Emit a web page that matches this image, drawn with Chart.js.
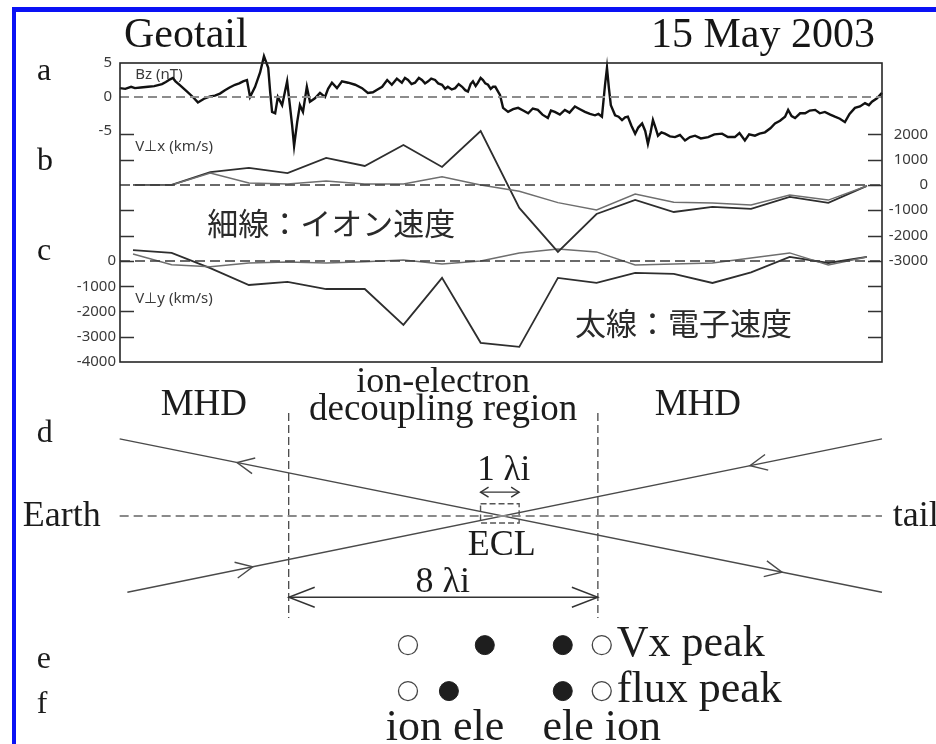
<!DOCTYPE html>
<html>
<head>
<meta charset="utf-8">
<script src="https://cdn.jsdelivr.net/npm/chart.js@4"></script>
<style>
  html, body { margin: 0; padding: 0; background: #fff; }
  #wrap { position: relative; width: 936px; height: 744px; overflow: hidden; background: #fff; }
  #frame { position: absolute; left: 12px; top: 7px; right: -20px; bottom: -20px;
           border-left: 4px solid #0a12f5; border-top: 5px solid #0a12f5; }
  #panels { position: absolute; left: 0; top: 0; }
  #diagram { position: absolute; left: 0; top: 362px; }
</style>
</head>
<body>
<div id="wrap">
  <div id="frame"></div>
  <canvas id="diagram" width="936" height="382"></canvas>
  <canvas id="panels" width="936" height="744"></canvas>
</div>
<script>
// ---------- Geotail, 15 May 2003 ----------
// Sample times (velocity moment number); Bz is given on a finer time grid.
const sampleTime = [0, 1, 2, 3, 4, 5, 6, 7, 8, 9, 10, 11, 12, 13, 14, 15, 16, 17, 18, 19];

// V⊥x (km/s)
const vxElectron = [0, 0, 510, 670, 470, 1070, 750, 1580, 710, 2130, -910, -2650, -1150, -590, -1070, -870, -950, -470, -710, -40];
const vxIon      = [0, 0, 470, 80, 40, 160, 40, 40, 320, 0, -250, -700, -990, -360, -680, -710, -790, -400, -600, -40];

// V⊥y (km/s)
const vyElectron = [430, 320, -280, -950, -830, -1110, -1110, -2530, -670, -3240, -3400, -670, -870, -470, -510, -870, -450, 160, -80, 160];
const vyIon      = [280, -150, -230, -80, -40, -80, -30, 40, -120, 0, 320, 470, 360, -160, -120, -80, 120, 320, -160, 160];

// Bz (nT)
const bzTime = [-0.34, -0.20, -0.05, 0.05, 0.20, 0.39, 0.55, 0.75, 0.85, 0.96, 1.03, 1.10, 1.22, 1.40, 1.55, 1.68, 1.86, 2.00, 2.12, 2.25,
  2.38, 2.50, 2.64, 2.75, 2.85, 2.95, 3.03, 3.16, 3.29, 3.39, 3.50, 3.55, 3.60, 3.68, 3.75, 3.86, 3.99, 4.06, 4.12, 4.17,
  4.25, 4.32, 4.40, 4.50, 4.58, 4.71, 4.84, 4.97, 5.05, 5.15, 5.28, 5.41, 5.57, 5.75, 5.93, 6.08, 6.21, 6.33, 6.45, 6.58,
  6.70, 6.83, 6.96, 7.04, 7.12, 7.21, 7.30, 7.40, 7.48, 7.56, 7.64, 7.72, 7.82, 7.90, 8.00, 8.08, 8.15, 8.25, 8.34, 8.43,
  8.52, 8.60, 8.67, 8.74, 8.80, 8.87, 8.93, 9.00, 9.06, 9.12, 9.19, 9.26, 9.32, 9.38, 9.45, 9.50, 9.55, 9.58, 9.71, 9.84,
  9.97, 10.10, 10.23, 10.35, 10.48, 10.60, 10.74, 10.82, 10.92, 11.05, 11.18, 11.30, 11.44, 11.57, 11.70, 11.83, 11.96, 12.05, 12.14, 12.22,
  12.27, 12.32, 12.37, 12.48, 12.57, 12.66, 12.74, 12.81, 12.90, 13.00, 13.08, 13.18, 13.26, 13.33, 13.40, 13.46, 13.53, 13.59, 13.68, 13.77,
  13.90, 14.03, 14.16, 14.29, 14.42, 14.55, 14.70, 14.89, 15.05, 15.25, 15.40, 15.58, 15.70, 15.84, 15.95, 16.10, 16.22, 16.36, 16.50, 16.62,
  16.75, 16.88, 16.96, 17.05, 17.14, 17.27, 17.40, 17.52, 17.66, 17.78, 17.91, 18.05, 18.17, 18.30, 18.43, 18.55, 18.69, 18.82, 18.95, 19.05,
  19.13, 19.26, 19.39];
const bzValue = [1.3, 1.2, 1.5, 1.3, 1.4, 1.5, 1.6, 1.9, 2.2, 2.6, 2.8, 2.3, 1.7, 0.8, 0.0, -0.8, -0.2, 0.1, 0.2, 0.5,
  1.0, 1.4, 1.8, 2.0, 2.3, 2.5, 0.0, 1.5, 3.6, 6.0, 4.3, 0.8, -2.2, -2.4, 0.0, -1.2, 2.3, -1.2, -4.2, -7.2,
  -3.7, -1.2, -2.2, 1.5, -0.7, -0.2, 0.6, 0.0, 1.2, 2.1, 1.3, 2.3, 2.1, 1.8, 1.3, 0.6, 0.7, 1.1, 1.5, 2.5,
  1.8, 2.7, 2.1, 2.8, 2.5, 1.9, 2.1, 2.8, 2.5, 2.0, 2.3, 2.7, 2.5, 2.0, 1.8, 1.2, 1.5, 1.1, 1.3, 1.9,
  1.5, 1.0, 0.8, 1.9, 2.3, 1.6, 2.1, 2.8, 2.5, 2.0, 1.8, 1.2, 1.5, 1.5, 0.8, 0.3, -0.9, -1.6, -2.2, -1.8,
  -1.6, -2.0, -2.4, -1.7, -1.9, -2.6, -3.1, -2.0, -2.2, -2.6, -1.9, -2.3, -1.4, -1.8, -2.2, -2.5, -2.7, -2.5, -2.9, 1.8,
  4.3, 1.3, -1.2, -2.7, -2.9, -3.4, -3.0, -2.9, -4.2, -5.4, -4.5, -3.9, -5.0, -6.9, -5.2, -3.4, -4.6, -5.7, -5.2, -5.4,
  -5.8, -5.9, -5.6, -6.4, -5.9, -5.7, -6.1, -5.9, -5.5, -5.4, -5.9, -5.9, -5.3, -6.4, -5.5, -5.7, -5.4, -5.2, -4.6, -3.9,
  -3.5, -2.9, -1.9, -2.8, -3.1, -2.4, -2.4, -2.0, -1.9, -2.4, -2.2, -2.6, -2.9, -3.2, -3.7, -2.5, -1.6, -1.4, -0.9, -1.2,
  -0.7, -0.2, 0.6];

// Tick marks and labels
const bzTicks       = [5, 0, -5];
const vxTicksRight  = [2000, 1000, 0, -1000, -2000, -3000];
const vxTicksLeft   = [2000, 1000, -1000, -2000];
const vyTicksLeft   = [0, -1000, -2000, -3000, -4000];
const vyTicksRight  = [-1000, -2000, -3000];

const axisTitles = { bz: 'Bz (nT)', vx: 'V\u22a5x (km/s)', vy: 'V\u22a5y (km/s)' };
const lineNotes  = { ion: '細線：イオン速度', electron: '太線：電子速度' };

const X_MIN = -0.337, X_MAX = 19.39;
const toXY = (xs, ys) => xs.map((x, i) => ({ x, y: ys[i] }));

const SERIF = '"Liberation Serif", "Times New Roman", serif';
const SANS  = '"Noto Sans", "Open Sans", sans-serif';

function tickSet(ctx, area, scale, values, side, len) {
  values.forEach(v => {
    const y = Math.round(scale.getPixelForValue(v)) + 0.5;
    ctx.beginPath();
    if (side === 'left') { ctx.moveTo(area.left, y); ctx.lineTo(area.left + len, y); }
    else { ctx.moveTo(area.right, y); ctx.lineTo(area.right - len, y); }
    ctx.stroke();
  });
}

function tickLabels(ctx, scale, values, x, align) {
  ctx.textAlign = align;
  ctx.textBaseline = 'middle';
  values.forEach(v => ctx.fillText(String(v), x, scale.getPixelForValue(v)));
}

const panelDecor = {
  id: 'panelDecor',
  beforeDatasetsDraw(chart) {
    const { ctx, scales } = chart;
    const x = scales.x;
    ctx.save();
    ctx.fillStyle = '#3a3a3a';
    ctx.font = '15px ' + SANS;
    ctx.textAlign = 'left';
    ctx.textBaseline = 'alphabetic';
    ctx.fillText(axisTitles.bz, x.getPixelForValue(0.06), scales.yBz.getPixelForValue(2.65));
    ctx.fillText(axisTitles.vx, x.getPixelForValue(0.06), scales.yVx.getPixelForValue(1340));
    ctx.fillText(axisTitles.vy, x.getPixelForValue(0.06), scales.yVy.getPixelForValue(-1660));

    ctx.fillStyle = '#2a2a2a';
    ctx.font = '31px "Noto Sans CJK JP", sans-serif';
    ctx.textBaseline = 'middle';
    ctx.fillText(lineNotes.ion, x.getPixelForValue(1.92), scales.yVx.getPixelForValue(-1500));
    ctx.fillText(lineNotes.electron, x.getPixelForValue(11.44), scales.yVy.getPixelForValue(-2450));
    ctx.restore();
  },
  afterDatasetsDraw(chart) {
    const { ctx, chartArea: a, scales } = chart;
    ctx.save();
    // frame
    ctx.strokeStyle = '#262626';
    ctx.lineWidth = 1.6;
    ctx.strokeRect(a.left, a.top, a.right - a.left, a.bottom - a.top);
    // inward ticks (the Bz -5 mark coincides with the V⊥x 2000 mark)
    ctx.lineWidth = 1.5;
    ctx.strokeStyle = '#333';
    tickSet(ctx, a, scales.yVx, vxTicksLeft, 'left', 14);
    tickSet(ctx, a, scales.yVy, vyTicksLeft.filter(v => v !== -4000), 'left', 14);
    tickSet(ctx, a, scales.yVx, vxTicksRight, 'right', 14);
    tickSet(ctx, a, scales.yVy, vyTicksRight, 'right', 14);
    // tick labels
    ctx.fillStyle = '#3a3a3a';
    ctx.font = '15px ' + SANS;
    tickLabels(ctx, scales.yBz, bzTicks, a.left - 8, 'right');
    tickLabels(ctx, scales.yVy, vyTicksLeft, a.left - 4, 'right');
    tickLabels(ctx, scales.yVx, vxTicksRight, a.right + 46, 'right');
    // header
    ctx.fillStyle = '#161616';
    ctx.font = '42px ' + SERIF;
    ctx.textBaseline = 'alphabetic';
    ctx.textAlign = 'left';
    ctx.fillText('Geotail', a.left + 4, a.top - 16);
    ctx.textAlign = 'right';
    ctx.fillText('15 May 2003', a.right - 7, a.top - 16);
    // panel letters
    ctx.font = '32px ' + SERIF;
    ctx.textAlign = 'left';
    ctx.fillText('a', 37, scales.yBz.getPixelForValue(2.5));
    ctx.fillText('b', 37, scales.yVx.getPixelForValue(600));
    ctx.fillText('c', 37, scales.yVy.getPixelForValue(40));
    ctx.restore();
  }
};

new Chart(document.getElementById('panels'), {
  type: 'line',
  data: {
    datasets: [
      { label: 'Bz zero', data: toXY([X_MIN, X_MAX], [0, 0]), yAxisID: 'yBz',
        borderColor: '#8c8c8c', borderWidth: 2.2, borderDash: [9, 5] },
      { label: 'Vx zero', data: toXY([X_MIN, X_MAX], [0, 0]), yAxisID: 'yVx',
        borderColor: '#3a3a3a', borderWidth: 1.4, borderDash: [10, 5] },
      { label: 'Vy zero', data: toXY([X_MIN, X_MAX], [0, 0]), yAxisID: 'yVy',
        borderColor: '#3a3a3a', borderWidth: 1.4, borderDash: [10, 5] },
      { label: 'Bz', data: toXY(bzTime, bzValue), yAxisID: 'yBz',
        borderColor: '#111', borderWidth: 2.4, clip: false },
      { label: 'V⊥x ion', data: toXY(sampleTime, vxIon), yAxisID: 'yVx',
        borderColor: '#6e6e6e', borderWidth: 1.5 },
      { label: 'V⊥x electron', data: toXY(sampleTime, vxElectron), yAxisID: 'yVx',
        borderColor: '#2e2e2e', borderWidth: 1.8 },
      { label: 'V⊥y ion', data: toXY(sampleTime, vyIon), yAxisID: 'yVy',
        borderColor: '#6e6e6e', borderWidth: 1.5 },
      { label: 'V⊥y electron', data: toXY(sampleTime, vyElectron), yAxisID: 'yVy',
        borderColor: '#2e2e2e', borderWidth: 1.8 }
    ]
  },
  options: {
    responsive: false,
    animation: false,
    events: [],
    elements: { point: { radius: 0 }, line: { tension: 0, fill: false } },
    layout: { autoPadding: false, padding: { left: 120, right: 54, top: 63, bottom: 382 } },
    plugins: { legend: { display: false }, tooltip: { enabled: false } },
    scales: {
      x:   { type: 'linear', min: X_MIN, max: X_MAX, display: false },
      yBz: { type: 'linear', min: -39, max: 5, display: false },
      yVx: { type: 'linear', min: -7000, max: 4820, display: false },
      yVy: { type: 'linear', min: -4000, max: 7840, display: false }
    }
  },
  plugins: [panelDecor]
});

// ---------- Schematic of the reconnection region (units of ion inertial length λi) ----------
const neutralLine   = { x: [-9.85, 9.9], y: [0, 0] };
const fieldLineA    = { x: [-9.85, 9.9], y: [2.0, -1.97] };
const fieldLineB    = { x: [-9.65, 9.9], y: [-1.97, 2.0] };
const regionEdges   = [-5.47, 2.54];          // ion-electron decoupling region, 8 λi wide
const regionSpanY   = [2.67, -2.64];
const spanArrowY    = -2.1;
const eclBox        = { x: [-0.5, 0.5], y: [0.32, -0.18] };
const eclArrowY     = 0.62;
// open arrowheads on the field lines: tip position and direction along x
const fieldArrows   = [
  { line: fieldLineA, x: -6.81, dir: -1 },
  { line: fieldLineB, x: -6.40, dir: 1 },
  { line: fieldLineB, x: 6.48, dir: -1 },
  { line: fieldLineA, x: 7.31, dir: 1 }
];
// peak locations (λi) — e: Vx peak, f: flux peak
const rowVxY = -3.34, rowFluxY = -4.53;
const vxPeakIon   = [-2.38, 2.64];
const vxPeakEle   = [-0.39, 1.63];
const fluxPeakIon = [-2.38, 2.64];
const fluxPeakEle = [-1.32, 1.63];

const lineAt = (ln, x) => ln.y[0] + (ln.y[1] - ln.y[0]) * (x - ln.x[0]) / (ln.x[1] - ln.x[0]);
const seg = (xs, ys) => xs.map((x, i) => ({ x, y: ys[i] }));
const rowPts = (xs, y) => xs.map(x => ({ x, y }));

function chevron(ctx, tx, ty, ux, uy, len, spread) {
  const bx = tx - ux * len, by = ty - uy * len;
  const px = -uy, py = ux;
  ctx.beginPath();
  ctx.moveTo(bx + px * spread, by + py * spread);
  ctx.lineTo(tx, ty);
  ctx.lineTo(bx - px * spread, by - py * spread);
  ctx.stroke();
}

const diagramDecor = {
  id: 'diagramDecor',
  afterDatasetsDraw(chart) {
    const { ctx, scales } = chart;
    const X = v => scales.x.getPixelForValue(v);
    const Y = v => scales.y.getPixelForValue(v);
    ctx.save();
    // field-line arrowheads
    ctx.strokeStyle = '#4a4a4a';
    ctx.lineWidth = 1.4;
    fieldArrows.forEach(ar => {
      const ln = ar.line;
      const dx = X(ln.x[1]) - X(ln.x[0]), dy = Y(ln.y[1]) - Y(ln.y[0]);
      const n = Math.hypot(dx, dy);
      const ux = dx / n * ar.dir, uy = dy / n * ar.dir;
      chevron(ctx, X(ar.x), Y(lineAt(ln, ar.x)), ux, uy, 17, 8);
    });
    // 8 λi span arrowheads
    ctx.strokeStyle = '#333';
    chevron(ctx, X(regionEdges[0]), Y(spanArrowY), -1, 0, 26, 10);
    chevron(ctx, X(regionEdges[1]), Y(spanArrowY), 1, 0, 26, 10);
    // 1 λi arrowheads
    chevron(ctx, X(eclBox.x[0]), Y(eclArrowY), -1, 0, 8, 5);
    chevron(ctx, X(eclBox.x[1]), Y(eclArrowY), 1, 0, 8, 5);

    // labels
    ctx.fillStyle = '#1c1c1c';
    ctx.textBaseline = 'alphabetic';
    const txt = (s, x, y, align, size) => {
      ctx.font = size + 'px ' + SERIF;
      ctx.textAlign = align;
      ctx.fillText(s, X(x), Y(y));
    };
    txt('ion-electron', -1.47, 3.21, 'center', 36);
    txt('decoupling region', -1.47, 2.49, 'center', 37);
    txt('MHD', -7.67, 2.62, 'center', 37);
    txt('MHD', 5.13, 2.62, 'center', 37);
    txt('Earth', -10.34, -0.26, 'right', 36);
    txt('tail', 10.18, -0.26, 'left', 36);
    txt('1 \u03bbi', 0.1, 0.93, 'center', 35);
    txt('ECL', 0.05, -1.01, 'center', 36);
    txt('8 \u03bbi', -1.48, -1.97, 'center', 36);
    txt('d', -12.0, 1.92, 'left', 32);
    txt('e', -12.0, -3.94, 'left', 32);
    txt('f', -12.0, -5.10, 'left', 32);
    txt('Vx peak', 3.03, -3.62, 'left', 44);
    txt('flux peak', 3.03, -4.81, 'left', 44);
    txt('ion ele', -1.42, -5.80, 'center', 44);
    txt('ele ion', 2.64, -5.80, 'center', 44);
    ctx.restore();
  }
};

const openDot   = { pointRadius: 9.5, pointStyle: 'circle', backgroundColor: '#fff', borderColor: '#444', borderWidth: 1.3, showLine: false };
const filledDot = { pointRadius: 9.5, pointStyle: 'circle', backgroundColor: '#1e1e1e', borderColor: '#1e1e1e', borderWidth: 1, showLine: false };

new Chart(document.getElementById('diagram'), {
  type: 'scatter',
  data: {
    datasets: [
      { label: 'neutral sheet', data: seg(neutralLine.x, neutralLine.y), showLine: true,
        borderColor: '#8a8a8a', borderWidth: 2, borderDash: [9, 5], pointRadius: 0 },
      { label: 'field line A', data: seg(fieldLineA.x, fieldLineA.y), showLine: true,
        borderColor: '#4a4a4a', borderWidth: 1.4, pointRadius: 0 },
      { label: 'field line B', data: seg(fieldLineB.x, fieldLineB.y), showLine: true,
        borderColor: '#4a4a4a', borderWidth: 1.4, pointRadius: 0 },
      { label: 'region edge earthward', data: seg([regionEdges[0], regionEdges[0]], regionSpanY), showLine: true,
        borderColor: '#3a3a3a', borderWidth: 1.2, borderDash: [8, 4], pointRadius: 0 },
      { label: 'region edge tailward', data: seg([regionEdges[1], regionEdges[1]], regionSpanY), showLine: true,
        borderColor: '#3a3a3a', borderWidth: 1.2, borderDash: [8, 4], pointRadius: 0 },
      { label: '8 λi', data: seg(regionEdges, [spanArrowY, spanArrowY]), showLine: true,
        borderColor: '#333', borderWidth: 1.4, pointRadius: 0 },
      { label: '1 λi', data: seg(eclBox.x, [eclArrowY, eclArrowY]), showLine: true,
        borderColor: '#333', borderWidth: 1.3, pointRadius: 0 },
      { label: 'ECL', data: seg([eclBox.x[0], eclBox.x[1], eclBox.x[1], eclBox.x[0], eclBox.x[0]],
                                [eclBox.y[0], eclBox.y[0], eclBox.y[1], eclBox.y[1], eclBox.y[0]]), showLine: true,
        borderColor: '#555', borderWidth: 1.4, borderDash: [6, 3], pointRadius: 0 },
      Object.assign({ label: 'Vx peak ion', data: rowPts(vxPeakIon, rowVxY) }, openDot),
      Object.assign({ label: 'Vx peak ele', data: rowPts(vxPeakEle, rowVxY) }, filledDot),
      Object.assign({ label: 'flux peak ion', data: rowPts(fluxPeakIon, rowFluxY) }, openDot),
      Object.assign({ label: 'flux peak ele', data: rowPts(fluxPeakEle, rowFluxY) }, filledDot)
    ]
  },
  options: {
    responsive: false,
    animation: false,
    events: [],
    layout: { autoPadding: false, padding: 0 },
    plugins: { legend: { display: false }, tooltip: { enabled: false } },
    elements: { line: { tension: 0, fill: false } },
    datasets: { scatter: { clip: false } },
    scales: {
      x: { type: 'linear', min: -12.95, max: 11.3, display: false },
      y: { type: 'linear', min: -5.9, max: 3.99, display: false }
    }
  },
  plugins: [diagramDecor]
});
</script>
</body>
</html>
